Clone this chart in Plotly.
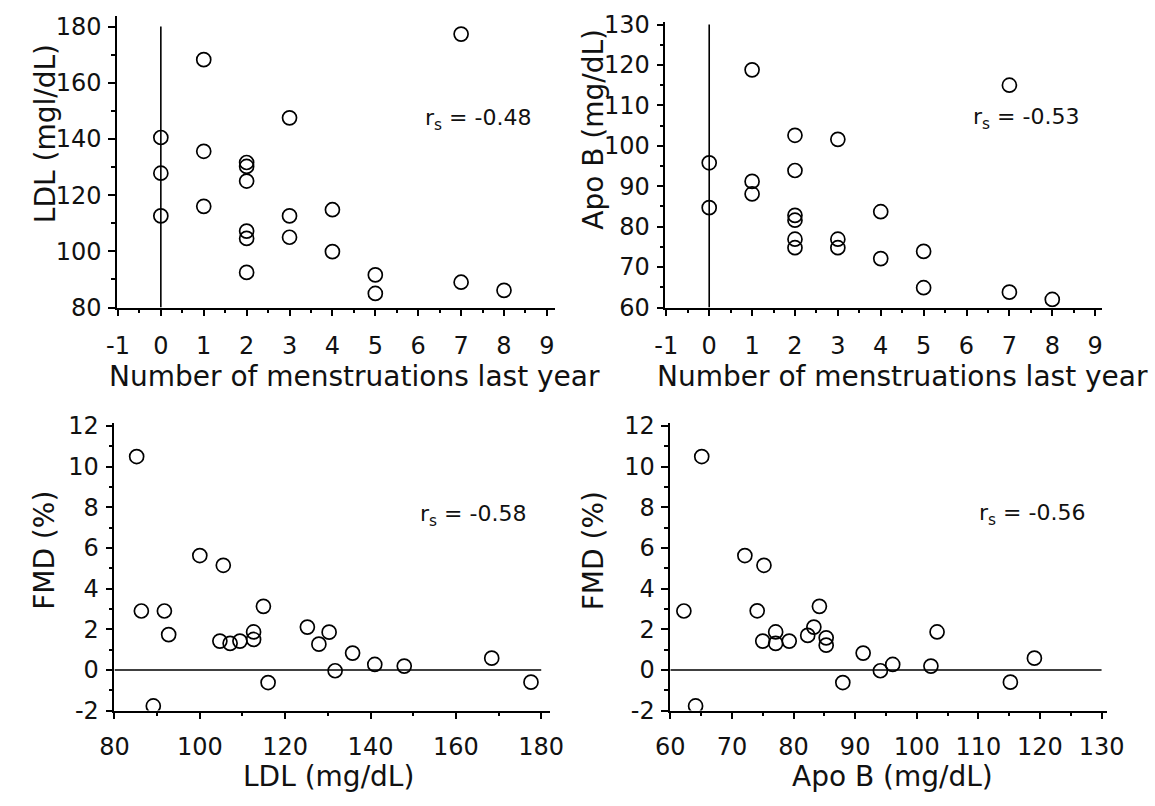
import plotly.graph_objects as go

# ---------------- data ----------------
# Panel A: LDL vs number of menstruations last year
menses_a = [0, 0, 0, 1, 1, 1, 2, 2, 2, 2, 2, 2, 3, 3, 3, 4, 4, 5, 5, 7, 7, 8]
ldl_a = [140.5, 127.8, 112.6, 168.2, 135.6, 116.0, 131.6, 130.2, 125.0, 107.2,
         104.6, 92.5, 147.5, 112.6, 105.0, 114.8, 99.9, 91.6, 85.0, 177.3, 89.0, 86.1]

# Panel B: Apo B vs number of menstruations last year
menses_b = [0, 0, 1, 1, 1, 2, 2, 2, 2, 2, 2, 3, 3, 3, 4, 4, 5, 5, 7, 7, 8]
apob_b = [95.8, 84.7, 118.8, 91.2, 88.1, 102.6, 93.9, 82.8, 81.6, 76.9,
          74.8, 101.6, 76.9, 74.8, 83.7, 72.1, 73.9, 64.9, 115.0, 63.8, 62.0]

# Panel C: FMD vs LDL
ldl_c = [85.2, 86.3, 89.1, 91.7, 92.7, 100.0, 105.5, 104.7, 107.1, 109.4, 112.6, 112.6,
         114.9, 116.0, 125.2, 127.9, 130.3, 131.7, 135.8, 141.0, 147.9, 168.4, 177.6]
fmd_c = [10.5, 2.9, -1.77, 2.9, 1.74, 5.63, 5.15, 1.42, 1.31, 1.42, 1.87, 1.5,
         3.13, -0.62, 2.11, 1.27, 1.86, -0.04, 0.83, 0.27, 0.19, 0.58, -0.6]

# Panel D: FMD vs Apo B
apob_d = [62.2, 64.1, 65.1, 72.1, 75.2, 74.1, 75.0, 77.1, 77.1, 79.3, 82.3, 83.3,
          84.2, 85.3, 85.3, 88.0, 91.3, 94.1, 96.1, 102.3, 103.3, 115.2, 119.1]
fmd_d = [2.9, -1.77, 10.5, 5.63, 5.15, 2.91, 1.42, 1.87, 1.31, 1.42, 1.7, 2.11,
         3.13, 1.58, 1.22, -0.62, 0.83, -0.04, 0.27, 0.19, 1.87, -0.6, 0.58]

# reference lines
ref_x0_a = [0, 0];       ref_y0_a = [80, 180]
ref_x0_b = [0, 0];       ref_y0_b = [60, 130]
ref_x_c = [80, 180];     ref_y_c = [0, 0]
ref_x_d = [60, 130];     ref_y_d = [0, 0]

# tick labels
menses_ticks = [-1, 0, 1, 2, 3, 4, 5, 6, 7, 8, 9]
menses_ticktext = ["-1", "0", "1", "2", "3", "4", "5", "6", "7", "8", "9"]
ldl_yticks = [80, 100, 120, 140, 160, 180]
apob_yticks = [60, 70, 80, 90, 100, 110, 120, 130]
fmd_ticks = [-2, 0, 2, 4, 6, 8, 10, 12]
fmd_ticktext = ["-2", "0", "2", "4", "6", "8", "10", "12"]
ldl_xticks = [80, 100, 120, 140, 160, 180]
apob_xticks = [60, 70, 80, 90, 100, 110, 120, 130]

rs_labels = ["r<sub>s</sub> = -0.48", "r<sub>s</sub> = -0.53",
             "r<sub>s</sub> = -0.58", "r<sub>s</sub> = -0.56"]

# ---------------- layout helpers ----------------
W, H = 1155, 806
FONT = "DejaVu Sans"


def fx(px):
    return px / W


def fy(px):
    return 1 - px / H


def axis(rng, dom, tickvals, ticktext, minor_dtick, minor_tick0, anchor, standoff):
    return dict(
        range=rng, domain=dom, anchor=anchor,
        tickmode="array", tickvals=tickvals, ticktext=ticktext,
        showline=True, linecolor="black", linewidth=1.7,
        ticks="outside", ticklen=7, tickwidth=1.5, tickcolor="black",
        showgrid=False, zeroline=False,
        ticklabelstandoff=standoff,
        tickfont=dict(family=FONT, size=24, color="#111"),
        minor=dict(ticks="outside", ticklen=4, tickwidth=1.5, tickcolor="black",
                   tickmode="linear", dtick=minor_dtick, tick0=minor_tick0, showgrid=False),
    )


marker = dict(symbol="circle-open", size=14, color="black", line=dict(width=1.7, color="black"))
line_style = dict(color="black", width=1.6)

fig = go.Figure()
# reference lines
fig.add_trace(go.Scatter(x=ref_x0_a, y=ref_y0_a, mode="lines", line=line_style, xaxis="x", yaxis="y"))
fig.add_trace(go.Scatter(x=ref_x0_b, y=ref_y0_b, mode="lines", line=line_style, xaxis="x2", yaxis="y2"))
fig.add_trace(go.Scatter(x=ref_x_c, y=ref_y_c, mode="lines", line=line_style, xaxis="x3", yaxis="y3"))
fig.add_trace(go.Scatter(x=ref_x_d, y=ref_y_d, mode="lines", line=line_style, xaxis="x4", yaxis="y4"))
# scatter points
fig.add_trace(go.Scatter(x=menses_a, y=ldl_a, mode="markers", marker=marker, xaxis="x", yaxis="y"))
fig.add_trace(go.Scatter(x=menses_b, y=apob_b, mode="markers", marker=marker, xaxis="x2", yaxis="y2"))
fig.add_trace(go.Scatter(x=ldl_c, y=fmd_c, mode="markers", marker=marker, xaxis="x3", yaxis="y3"))
fig.add_trace(go.Scatter(x=apob_d, y=fmd_d, mode="markers", marker=marker, xaxis="x4", yaxis="y4"))

layout = dict(
    width=W, height=H, autosize=False,
    margin=dict(l=0, r=0, t=0, b=0),
    paper_bgcolor="white", plot_bgcolor="rgba(0,0,0,0)",
    showlegend=False,
    xaxis=axis([-1.02, 9.18], [fx(105), fx(555)], menses_ticks, menses_ticktext, 0.5, 0, "y", 9),
    yaxis=axis([80, 183.8], [fy(306), fy(5)], ldl_yticks, [str(v) for v in ldl_yticks], 10, 80, "x", 2),
    xaxis2=axis([-1.02, 9.16], [fx(669), fx(1118)], menses_ticks, menses_ticktext, 0.5, 0, "y2", 9),
    yaxis2=axis([60, 130.55], [fy(306), fy(11.7)], apob_yticks, [str(v) for v in apob_yticks], 5, 60, "x2", 2),
    xaxis3=axis([80, 182], [fx(102.3), fx(550)], ldl_xticks, [str(v) for v in ldl_xticks], 10, 80, "y3", 7),
    yaxis3=axis([-2, 12.16], [fy(722), fy(425)], fmd_ticks, fmd_ticktext, 1, 0, "x3", 2),
    xaxis4=axis([60, 130.96], [fx(674), fx(1123.6)], apob_xticks, [str(v) for v in apob_xticks], 5, 60, "y4", 7),
    yaxis4=axis([-2, 12.16], [fy(722), fy(425)], fmd_ticks, fmd_ticktext, 1, 0, "x4", 2),
)
fig.update_layout(**layout)

title_font = dict(family=FONT, size=28, color="#111")
annots = [
    # axis titles (paper coords)
    dict(text="Number of menstruations last year", x=fx(349), y=fy(377), xref="paper", yref="paper",
         showarrow=False, font=title_font, xanchor="center", yanchor="middle"),
    dict(text="Number of menstruations last year", x=fx(913), y=fy(377), xref="paper", yref="paper",
         showarrow=False, font=title_font, xanchor="center", yanchor="middle"),
    dict(text="LDL (mg/dL)", x=fx(322), y=fy(790), xref="paper", yref="paper",
         showarrow=False, font=title_font, xanchor="center", yanchor="middle"),
    dict(text="Apo B (mg/dL)", x=fx(902), y=fy(790), xref="paper", yref="paper",
         showarrow=False, font=title_font, xanchor="center", yanchor="middle"),
    dict(text="LDL (mgl/dL)", x=fx(31), y=fy(127), xref="paper", yref="paper", textangle=-90,
         showarrow=False, font=title_font, xanchor="center", yanchor="middle"),
    dict(text="Apo B (mg/dL)", x=fx(595), y=fy(122), xref="paper", yref="paper", textangle=-90,
         showarrow=False, font=title_font, xanchor="center", yanchor="middle"),
    dict(text="FMD (%)", x=fx(31), y=fy(557), xref="paper", yref="paper", textangle=-90,
         showarrow=False, font=title_font, xanchor="center", yanchor="middle"),
    dict(text="FMD (%)", x=fx(595), y=fy(557), xref="paper", yref="paper", textangle=-90,
         showarrow=False, font=title_font, xanchor="center", yanchor="middle"),
]
rs_font = dict(family=FONT, size=22, color="#111")
rs_pos = [("x", "y", 6.12, 147), ("x2", "y2", 6.11, 106.8), ("x3", "y3", 151.2, 7.6), ("x4", "y4", 109.8, 7.65)]
for lab, (xr, yr, xv, yv) in zip(rs_labels, rs_pos):
    annots.append(dict(text=lab, x=xv, y=yv, xref=xr, yref=yr, showarrow=False, font=rs_font,
                       xanchor="left", yanchor="middle"))
fig.update_layout(annotations=annots)

fig.write_html("out.html")
